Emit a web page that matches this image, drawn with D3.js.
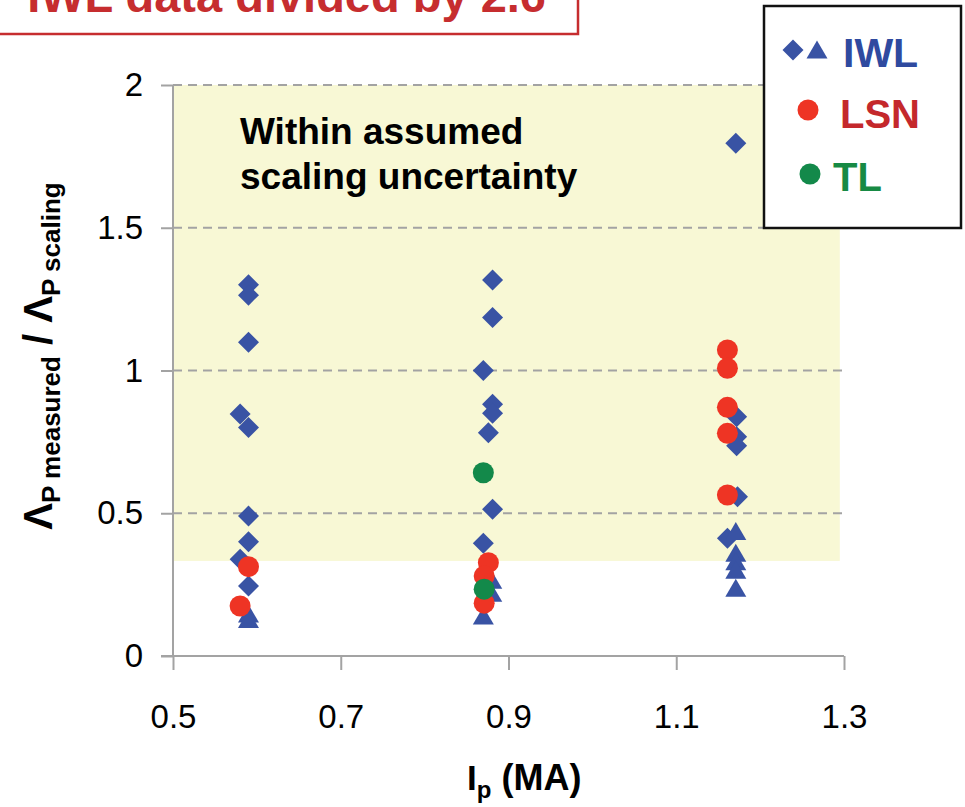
<!DOCTYPE html>
<html><head><meta charset="utf-8">
<script src="https://cdn.jsdelivr.net/npm/d3@7"></script>
<style>body{margin:0;background:#fff}svg{display:block}text{font-family:"Liberation Sans",Arial,Helvetica,sans-serif}</style>
</head><body><svg id="c" width="965" height="807"></svg>
<script>
// ---- data ----
const xTicks = [0.5, 0.7, 0.9, 1.1, 1.3];
const yTicks = [0, 0.5, 1, 1.5, 2];
const xTickLabels = ["0.5", "0.7", "0.9", "1.1", "1.3"];
const yTickLabels = ["0", "0.5", "1", "1.5", "2"];
const iwlDiamondX = [0.59,0.59,0.59,0.58,0.59,0.59,0.59,0.58,0.59, 0.881,0.881,0.870,0.881,0.881,0.876,0.881,0.870, 1.171,1.172,1.172,1.172,1.173,1.161];
const iwlDiamondY = [1.30,1.264,1.099,0.848,0.80,0.49,0.40,0.339,0.245, 1.317,1.186,1.00,0.882,0.850,0.782,0.514,0.395, 1.796,0.838,0.768,0.736,0.558,0.412];
const iwlTriangleX = [0.59,0.59, 0.88,0.88,0.87, 1.171,1.171,1.171,1.171,1.171];
const iwlTriangleY = [0.147,0.128, 0.265,0.22,0.14, 0.436,0.36,0.33,0.30,0.237];
const lsnX = [0.59,0.58, 0.876,0.871,0.871, 1.161,1.161,1.161,1.161,1.161];
const lsnY = [0.313,0.175, 0.327,0.280,0.185, 1.072,1.008,0.871,0.780,0.564];
const tlX = [0.870,0.871];
const tlY = [0.642,0.234];
const bandRange = {x0:0.5, x1:1.295, y0:0.333, y1:2};

// ---- drawing ----
const svg = d3.select("#c");
const x = d3.scaleLinear().domain([0.5,1.3]).range([173,844]);
const y = d3.scaleLinear().domain([0,2]).range([656,85]);
const BLUE="#3953a4", RED="#ee3424", GREEN="#13894a", GRID="#a3a3a3";

// band
svg.append("rect").attr("x",x(bandRange.x0)).attr("y",y(bandRange.y1))
  .attr("width",x(bandRange.x1)-x(bandRange.x0)).attr("height",y(bandRange.y0)-y(bandRange.y1))
  .attr("fill","#f8f8d5");

// gridlines
svg.append("g").selectAll("line").data(yTicks.filter(d=>d>0)).join("line")
  .attr("x1",x(0.5)).attr("x2",x(1.3)).attr("y1",d=>y(d)).attr("y2",d=>y(d))
  .attr("stroke",GRID).attr("stroke-width",2).attr("stroke-dasharray","9,6");

// axes
const yAxis = d3.axisLeft(y).tickValues(yTicks).tickFormat((d,i)=>yTickLabels[i]).tickSize(12).tickPadding(18);
const gy = svg.append("g").attr("transform",`translate(${x(0.5)},0)`).call(yAxis);
gy.select(".domain").attr("stroke",GRID).attr("stroke-width",2).attr("d",`M0,${y(2)}V${y(0)}`);
gy.selectAll(".tick line").attr("stroke",GRID).attr("stroke-width",2);
gy.selectAll(".tick text").attr("font-size",33).attr("fill","#000").attr("font-family",null);

const xAxis = d3.axisBottom(x).tickValues(xTicks).tickFormat((d,i)=>xTickLabels[i]).tickSize(14).tickPadding(34);
const gx = svg.append("g").attr("transform",`translate(0,${y(0)})`).call(xAxis);
gx.select(".domain").attr("stroke",GRID).attr("stroke-width",2).attr("d",`M${x(0.5)-12},0H${x(1.3)}`);
gx.selectAll(".tick line").attr("stroke",GRID).attr("stroke-width",2);
gx.selectAll(".tick text").attr("font-size",33).attr("fill","#000").attr("font-family",null).attr("dy",0).attr("y",72);

// markers
const diamond = "M0,-10.5L10.5,0L0,10.5L-10.5,0Z";
const tri = "M0,-9.5L10.5,8.5L-10.5,8.5Z";
svg.append("g").selectAll("path").data(iwlDiamondX.map((d,i)=>[d,iwlDiamondY[i]])).join("path")
  .attr("d",diamond).attr("transform",d=>`translate(${x(d[0])},${y(d[1])})`).attr("fill",BLUE);
svg.append("g").selectAll("path").data(iwlTriangleX.map((d,i)=>[d,iwlTriangleY[i]])).join("path")
  .attr("d",tri).attr("transform",d=>`translate(${x(d[0])},${y(d[1])})`).attr("fill",BLUE);
svg.append("g").selectAll("circle").data(lsnX.map((d,i)=>[d,lsnY[i]])).join("circle")
  .attr("cx",d=>x(d[0])).attr("cy",d=>y(d[1])).attr("r",10.5).attr("fill",RED);
svg.append("g").selectAll("circle").data(tlX.map((d,i)=>[d,tlY[i]])).join("circle")
  .attr("cx",d=>x(d[0])).attr("cy",d=>y(d[1])).attr("r",10.5).attr("fill",GREEN);

// annotation
const ann = svg.append("text").attr("font-weight","bold").attr("font-size",37).attr("fill","#000");
ann.append("tspan").attr("x",240).attr("y",144).text("Within assumed");
ann.append("tspan").attr("x",240).attr("y",189).text("scaling uncertainty");

// axis titles
const yt = svg.append("text").attr("transform","translate(52,356) rotate(-90)")
  .attr("text-anchor","middle").attr("font-weight","bold").attr("fill","#000");
yt.append("tspan").attr("font-size",40).text("Λ");
yt.append("tspan").attr("font-size",26).attr("dy",8).text("P measured");
yt.append("tspan").attr("font-size",40).attr("dy",-8).text(" / Λ");
yt.append("tspan").attr("font-size",26).attr("dy",8).text("P scaling");

const xt = svg.append("text").attr("x",467).attr("y",790).attr("font-weight","bold").attr("fill","#000");
xt.append("tspan").attr("font-size",35).text("I");
xt.append("tspan").attr("font-size",24).attr("dy",8).text("p");
xt.append("tspan").attr("font-size",36).attr("dy",-8).text(" (MA)");

// title box
svg.append("rect").attr("x",-5).attr("y",-5).attr("width",583).attr("height",39)
  .attr("fill","#fff").attr("stroke","#c62d2f").attr("stroke-width",2.5);
svg.append("text").attr("x",546).attr("y",12).attr("text-anchor","end").attr("font-weight","bold")
  .attr("font-size",47).attr("fill","#c62d2f").text("IWL data divided by 2.6");

// legend
svg.append("rect").attr("x",764).attr("y",6).attr("width",197).attr("height",222)
  .attr("fill","#fff").attr("stroke","#111").attr("stroke-width",2.5);
svg.append("path").attr("d",diamond).attr("transform","translate(793,50)").attr("fill",BLUE);
svg.append("path").attr("d",tri).attr("transform","translate(817,50)").attr("fill",BLUE);
svg.append("text").attr("x",843).attr("y",67).attr("font-weight","bold").attr("font-size",41).attr("fill","#2f4a9f").text("IWL");
svg.append("circle").attr("cx",808).attr("cy",110).attr("r",10.5).attr("fill",RED);
svg.append("text").attr("x",840).attr("y",128).attr("font-weight","bold").attr("font-size",40).attr("fill","#c4282c").text("LSN");
svg.append("circle").attr("cx",810).attr("cy",174).attr("r",10.5).attr("fill",GREEN);
svg.append("text").attr("x",833).attr("y",191).attr("font-weight","bold").attr("font-size",40).attr("fill","#178a44").text("TL");
</script>
</body></html>
